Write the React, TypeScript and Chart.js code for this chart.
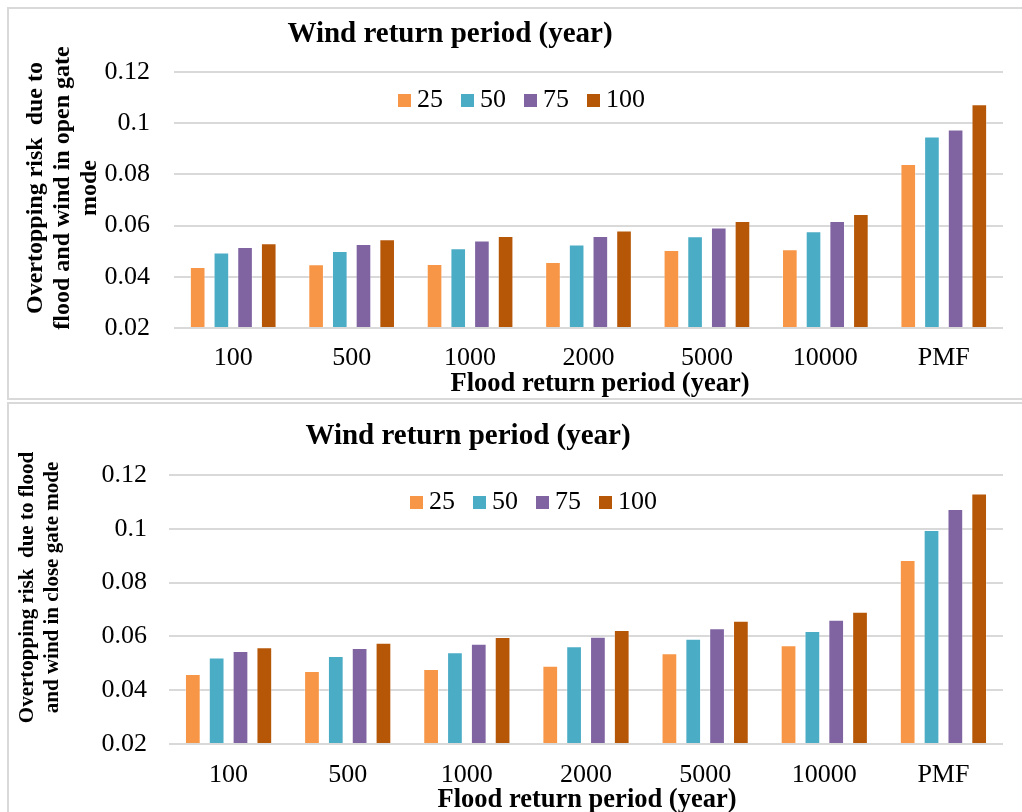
import React, { useEffect, useRef } from "react";
import { Chart, registerables } from "chart.js";

Chart.register(...registerables);

// ---------- data ----------
const categories = ["100", "500", "1000", "2000", "5000", "10000", "PMF"];
const windPeriods = ["25", "50", "75", "100"];

const openGate25 = [0.0438, 0.0449, 0.045, 0.0458, 0.0505, 0.0508, 0.0841];
const openGate50 = [0.0495, 0.0501, 0.0512, 0.0526, 0.0558, 0.0578, 0.0948];
const openGate75 = [0.0516, 0.0528, 0.0542, 0.0559, 0.0593, 0.0618, 0.0975];
const openGate100 = [0.0531, 0.0547, 0.0559, 0.0581, 0.0618, 0.0645, 0.1074];

const closeGate25 = [0.046, 0.0471, 0.0479, 0.0491, 0.0537, 0.0567, 0.0884];
const closeGate50 = [0.0522, 0.0527, 0.0541, 0.0563, 0.0591, 0.062, 0.0996];
const closeGate75 = [0.0546, 0.0557, 0.0573, 0.0599, 0.063, 0.0662, 0.1074];
const closeGate100 = [0.056, 0.0576, 0.0598, 0.0624, 0.0658, 0.0692, 0.1131];

const yMin = 0.02;
const yMax = 0.12;
const yStep = 0.02;

const chartTitle = "Wind return period (year)";
const xTitle = "Flood return period (year)";
const openYTitle = ["Overtopping risk  due to", "flood and wind in open gate", "mode"];
const closeYTitle = ["Overtopping risk  due to flood", "and wind in close gate mode"];

const colors = ["#F79646", "#4BACC6", "#8064A2", "#B65708"];
const FONT = '"Liberation Serif", "Times New Roman", serif';

type PanelCfg = {
  series: number[][];
  yTitle: string[];
  canvasH: number;
  padTop: number;
  yWidth: number;
  xHeight: number;
  yTickPad: number;
  xTickPad: number;
  titleX: number;
  titleY: number;
  legendX: number;
  legendY: number;
  yTitleX: number;
  yTitleLH: number;
  yTitleY: number;
  yTitleSize: number;
  xTitleX: number;
  xTitleY: number;
};

function makeOverlay(cfg: PanelCfg) {
  return {
    id: "overlay",
    afterDraw(chart: any) {
      const ctx = chart.ctx as CanvasRenderingContext2D;
      ctx.save();
      ctx.fillStyle = "#000";
      // chart title
      ctx.font = `bold 29px ${FONT}`;
      ctx.textAlign = "center";
      ctx.textBaseline = "alphabetic";
      ctx.fillText(chartTitle, cfg.titleX, cfg.titleY);
      // x title
      ctx.font = `bold 26.5px ${FONT}`;
      ctx.fillText(xTitle, cfg.xTitleX, cfg.xTitleY);
      // y title
      ctx.save();
      ctx.translate(cfg.yTitleX, cfg.yTitleY);
      ctx.rotate(-Math.PI / 2);
      ctx.font = `bold ${cfg.yTitleSize}px ${FONT}`;
      ctx.textAlign = "center";
      cfg.yTitle.forEach((line, i) => ctx.fillText(line, 0, i * cfg.yTitleLH));
      ctx.restore();
      // legend
      ctx.font = `26px ${FONT}`;
      ctx.textAlign = "left";
      ctx.textBaseline = "middle";
      let x = cfg.legendX;
      chart.data.datasets.forEach((ds: any) => {
        ctx.fillStyle = ds.backgroundColor;
        ctx.fillRect(x, cfg.legendY - 6.5, 13, 13);
        ctx.fillStyle = "#000";
        const label = String(ds.label);
        ctx.fillText(label, x + 19, cfg.legendY);
        x += 19 + ctx.measureText(label).width + 18;
      });
      ctx.restore();
    },
  };
}

function Panel({ cfg }: { cfg: PanelCfg }) {
  const ref = useRef<HTMLCanvasElement>(null);
  useEffect(() => {
    if (!ref.current) return;
    const chart = new Chart(ref.current, {
      type: "bar",
      data: {
        labels: categories,
        datasets: cfg.series.map((vals, i) => ({
          label: windPeriods[i],
          data: vals,
          backgroundColor: colors[i],
          borderColor: "rgba(255,255,255,0.35)",
          borderWidth: 1,
          borderSkipped: "start",
          base: yMin,
          categoryPercentage: 0.8,
          barPercentage: 0.66,
        })),
      },
      options: {
        animation: false,
        responsive: false,
        devicePixelRatio: 1,
        layout: { padding: { left: 0, right: 19, top: cfg.padTop, bottom: 0 } },
        plugins: {
          legend: { display: false },
          title: { display: false },
          tooltip: { enabled: false },
        },
        scales: {
          x: {
            grid: { display: false, drawTicks: false },
            border: { display: false },
            ticks: {
              font: { family: FONT, size: 26 },
              color: "#000",
              padding: cfg.xTickPad,
              maxRotation: 0,
              autoSkip: false,
            },
            afterFit: (s: any) => {
              s.height = cfg.xHeight;
            },
          },
          y: {
            min: yMin,
            max: yMax,
            grid: { color: "#d9d9d9", lineWidth: 2, drawTicks: false },
            border: { display: false },
            ticks: {
              stepSize: yStep,
              font: { family: FONT, size: 26 },
              color: "#000",
              padding: cfg.yTickPad,
              callback: (v: any) => String(Number(Number(v).toFixed(2))),
            },
            afterFit: (s: any) => {
              s.width = cfg.yWidth;
            },
          },
        },
      },
      plugins: [makeOverlay(cfg)],
    } as any);
    return () => chart.destroy();
  }, []);
  return (
    <canvas
      ref={ref}
      width={1022}
      height={cfg.canvasH}
      style={{ display: "block", width: 1022, height: cfg.canvasH }}
    />
  );
}

const openCfg: PanelCfg = {
  series: [openGate25, openGate50, openGate75, openGate100],
  yTitle: openYTitle,
  canvasH: 400,
  padTop: 72,
  yWidth: 174,
  xHeight: 72,
  yTickPad: 24,
  xTickPad: 15,
  titleX: 450,
  titleY: 42,
  legendX: 398,
  legendY: 100.5,
  yTitleX: 41.5,
  yTitleLH: 27,
  yTitleY: 188,
  yTitleSize: 24,
  xTitleX: 600,
  xTitleY: 390.5,
};

const closeCfg: PanelCfg = {
  series: [closeGate25, closeGate50, closeGate75, closeGate100],
  yTitle: closeYTitle,
  canvasH: 412,
  padTop: 75,
  yWidth: 169,
  xHeight: 68,
  yTickPad: 22,
  xTickPad: 16,
  titleX: 468,
  titleY: 44.3,
  legendX: 410,
  legendY: 102.5,
  yTitleX: 33.3,
  yTitleLH: 24.3,
  yTitleY: 187.5,
  yTitleSize: 21,
  xTitleX: 587,
  xTitleY: 406.7,
};

export default function App() {
  return (
    <div
      style={{
        position: "fixed",
        left: 0,
        top: 0,
        width: 1022,
        height: 812,
        overflow: "hidden",
        background: "#fff",
      }}
    >
      <div
        style={{
          position: "absolute",
          left: 7,
          top: 7,
          width: 1040,
          height: 393,
          boxSizing: "border-box",
          border: "2px solid #d9d9d9",
        }}
      />
      <div
        style={{
          position: "absolute",
          left: 7,
          top: 402,
          width: 1040,
          height: 430,
          boxSizing: "border-box",
          border: "2px solid #d9d9d9",
        }}
      />
      <div style={{ position: "absolute", left: 0, top: 0 }}>
        <Panel cfg={openCfg} />
      </div>
      <div style={{ position: "absolute", left: 0, top: 400 }}>
        <Panel cfg={closeCfg} />
      </div>
    </div>
  );
}
